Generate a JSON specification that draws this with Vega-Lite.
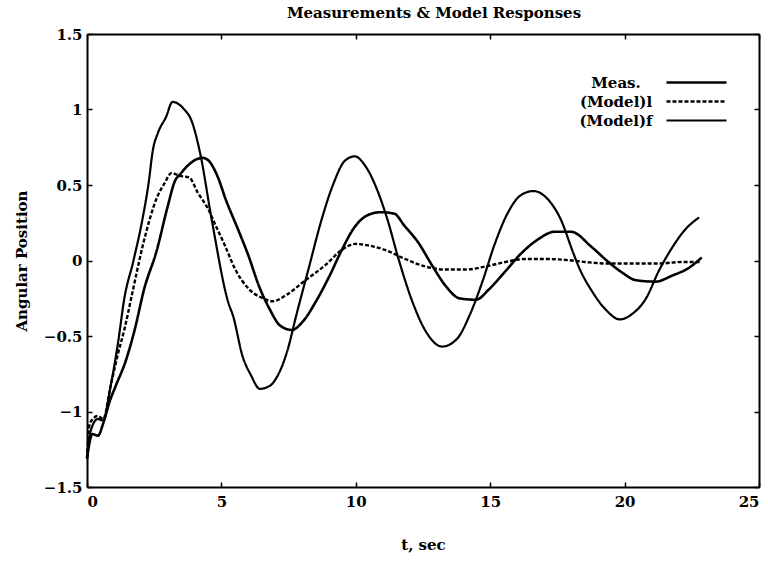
{
  "$schema": "https://vega.github.io/schema/vega-lite/v6.json",
  "width": 672,
  "height": 453,
  "autosize": {"type": "none"},
  "padding": {"left": 87, "top": 34, "right": 9, "bottom": 74},
  "background": "white",
  "title": {"text": "Measurements & Model Responses", "font": "DejaVu Serif", "fontSize": 15, "fontWeight": "bold", "color": "black", "offset": 6, "anchor": "middle", "dx": 11},
  "config": {
    "view": {"stroke": null},
    "axis": {
      "domainColor": "black", "domainWidth": 2, "tickColor": "black", "tickWidth": 1.5, "tickSize": -5,
      "grid": false, "labelFont": "DejaVu Serif", "labelFontWeight": "bold", "labelFontSize": 15, "labelColor": "black",
      "titleFont": "DejaVu Serif", "titleFontWeight": "bold", "titleFontSize": 15, "titleColor": "black"
    },
    "legend": {"symbolStrokeColor": "black"}
  },
  "data": {"values": [
    {"s":"Meas.","t":0,"v":-1.31},{"s":"Meas.","t":0.2,"v":-1.15},{"s":"Meas.","t":0.41,"v":-1.16},{"s":"Meas.","t":0.6,"v":-1.08},{"s":"Meas.","t":0.85,"v":-0.93},{"s":"Meas.","t":1.07,"v":-0.83},{"s":"Meas.","t":1.45,"v":-0.66},{"s":"Meas.","t":1.8,"v":-0.44},{"s":"Meas.","t":2.11,"v":-0.2},{"s":"Meas.","t":2.6,"v":0.07},{"s":"Meas.","t":2.99,"v":0.35},{"s":"Meas.","t":3.28,"v":0.53},{"s":"Meas.","t":3.46,"v":0.57},{"s":"Meas.","t":3.76,"v":0.63},{"s":"Meas.","t":4.07,"v":0.67},{"s":"Meas.","t":4.3,"v":0.68},{"s":"Meas.","t":4.53,"v":0.66},{"s":"Meas.","t":4.85,"v":0.56},{"s":"Meas.","t":5.17,"v":0.4},{"s":"Meas.","t":5.61,"v":0.21},{"s":"Meas.","t":6.01,"v":0.03},{"s":"Meas.","t":6.4,"v":-0.17},{"s":"Meas.","t":6.79,"v":-0.32},{"s":"Meas.","t":7.18,"v":-0.43},{"s":"Meas.","t":7.62,"v":-0.46},{"s":"Meas.","t":8.05,"v":-0.4},{"s":"Meas.","t":8.52,"v":-0.27},{"s":"Meas.","t":9.0,"v":-0.11},{"s":"Meas.","t":9.48,"v":0.07},{"s":"Meas.","t":9.95,"v":0.22},{"s":"Meas.","t":10.44,"v":0.3},{"s":"Meas.","t":10.93,"v":0.32},{"s":"Meas.","t":11.43,"v":0.31},{"s":"Meas.","t":11.81,"v":0.23},{"s":"Meas.","t":12.32,"v":0.12},{"s":"Meas.","t":12.83,"v":-0.03},{"s":"Meas.","t":13.35,"v":-0.17},{"s":"Meas.","t":13.85,"v":-0.25},{"s":"Meas.","t":14.47,"v":-0.26},{"s":"Meas.","t":14.96,"v":-0.19},{"s":"Meas.","t":15.57,"v":-0.07},{"s":"Meas.","t":16.17,"v":0.05},{"s":"Meas.","t":16.78,"v":0.14},{"s":"Meas.","t":17.39,"v":0.19},{"s":"Meas.","t":18.01,"v":0.19},{"s":"Meas.","t":18.77,"v":0.09},{"s":"Meas.","t":19.4,"v":-0.01},{"s":"Meas.","t":19.91,"v":-0.08},{"s":"Meas.","t":20.41,"v":-0.13},{"s":"Meas.","t":21.15,"v":-0.14},{"s":"Meas.","t":21.77,"v":-0.1},{"s":"Meas.","t":22.38,"v":-0.05},{"s":"Meas.","t":22.87,"v":0.02},
    {"s":"(Model)l","t":0,"v":-1.31},{"s":"(Model)l","t":0.1,"v":-1.08},{"s":"(Model)l","t":0.4,"v":-1.03},{"s":"(Model)l","t":0.6,"v":-1.05},{"s":"(Model)l","t":0.88,"v":-0.83},{"s":"(Model)l","t":1.15,"v":-0.62},{"s":"(Model)l","t":1.4,"v":-0.45},{"s":"(Model)l","t":1.68,"v":-0.22},{"s":"(Model)l","t":2.09,"v":0.11},{"s":"(Model)l","t":2.61,"v":0.42},{"s":"(Model)l","t":2.88,"v":0.51},{"s":"(Model)l","t":3.15,"v":0.58},{"s":"(Model)l","t":3.45,"v":0.56},{"s":"(Model)l","t":3.8,"v":0.55},{"s":"(Model)l","t":4.12,"v":0.45},{"s":"(Model)l","t":4.51,"v":0.34},{"s":"(Model)l","t":4.74,"v":0.25},{"s":"(Model)l","t":5.13,"v":0.1},{"s":"(Model)l","t":5.52,"v":-0.06},{"s":"(Model)l","t":6.03,"v":-0.19},{"s":"(Model)l","t":6.54,"v":-0.25},{"s":"(Model)l","t":6.91,"v":-0.27},{"s":"(Model)l","t":7.4,"v":-0.23},{"s":"(Model)l","t":8.13,"v":-0.13},{"s":"(Model)l","t":8.87,"v":-0.03},{"s":"(Model)l","t":9.48,"v":0.07},{"s":"(Model)l","t":9.97,"v":0.11},{"s":"(Model)l","t":10.46,"v":0.1},{"s":"(Model)l","t":11.09,"v":0.07},{"s":"(Model)l","t":11.84,"v":0.01},{"s":"(Model)l","t":12.59,"v":-0.04},{"s":"(Model)l","t":13.33,"v":-0.06},{"s":"(Model)l","t":14.08,"v":-0.06},{"s":"(Model)l","t":14.82,"v":-0.04},{"s":"(Model)l","t":15.56,"v":-0.01},{"s":"(Model)l","t":16.3,"v":0.01},{"s":"(Model)l","t":17.04,"v":0.01},{"s":"(Model)l","t":18.04,"v":0.0},{"s":"(Model)l","t":18.53,"v":-0.01},{"s":"(Model)l","t":19.4,"v":-0.02},{"s":"(Model)l","t":20.27,"v":-0.02},{"s":"(Model)l","t":21.26,"v":-0.02},{"s":"(Model)l","t":22.13,"v":-0.01},{"s":"(Model)l","t":22.81,"v":-0.01},
    {"s":"(Model)f","t":0,"v":-1.31},{"s":"(Model)f","t":0.15,"v":-1.12},{"s":"(Model)f","t":0.4,"v":-1.05},{"s":"(Model)f","t":0.6,"v":-1.06},{"s":"(Model)f","t":0.88,"v":-0.83},{"s":"(Model)f","t":1.15,"v":-0.55},{"s":"(Model)f","t":1.39,"v":-0.25},{"s":"(Model)f","t":1.73,"v":0.0},{"s":"(Model)f","t":2.07,"v":0.28},{"s":"(Model)f","t":2.29,"v":0.51},{"s":"(Model)f","t":2.45,"v":0.73},{"s":"(Model)f","t":2.65,"v":0.85},{"s":"(Model)f","t":2.94,"v":0.95},{"s":"(Model)f","t":3.18,"v":1.05},{"s":"(Model)f","t":3.62,"v":1.0},{"s":"(Model)f","t":3.88,"v":0.93},{"s":"(Model)f","t":4.21,"v":0.71},{"s":"(Model)f","t":4.64,"v":0.27},{"s":"(Model)f","t":5.26,"v":-0.28},{"s":"(Model)f","t":5.44,"v":-0.37},{"s":"(Model)f","t":5.78,"v":-0.63},{"s":"(Model)f","t":6.1,"v":-0.76},{"s":"(Model)f","t":6.43,"v":-0.85},{"s":"(Model)f","t":6.8,"v":-0.83},{"s":"(Model)f","t":7.1,"v":-0.76},{"s":"(Model)f","t":7.45,"v":-0.6},{"s":"(Model)f","t":7.79,"v":-0.36},{"s":"(Model)f","t":8.25,"v":-0.05},{"s":"(Model)f","t":8.71,"v":0.26},{"s":"(Model)f","t":9.17,"v":0.51},{"s":"(Model)f","t":9.59,"v":0.66},{"s":"(Model)f","t":9.96,"v":0.69},{"s":"(Model)f","t":10.34,"v":0.63},{"s":"(Model)f","t":10.79,"v":0.47},{"s":"(Model)f","t":11.18,"v":0.27},{"s":"(Model)f","t":11.59,"v":0.01},{"s":"(Model)f","t":12.12,"v":-0.28},{"s":"(Model)f","t":12.64,"v":-0.48},{"s":"(Model)f","t":13.21,"v":-0.57},{"s":"(Model)f","t":13.76,"v":-0.52},{"s":"(Model)f","t":14.24,"v":-0.36},{"s":"(Model)f","t":14.71,"v":-0.14},{"s":"(Model)f","t":15.17,"v":0.11},{"s":"(Model)f","t":15.64,"v":0.31},{"s":"(Model)f","t":16.12,"v":0.43},{"s":"(Model)f","t":16.61,"v":0.46},{"s":"(Model)f","t":17.12,"v":0.41},{"s":"(Model)f","t":17.63,"v":0.27},{"s":"(Model)f","t":18.09,"v":0.05},{"s":"(Model)f","t":18.29,"v":-0.04},{"s":"(Model)f","t":18.81,"v":-0.21},{"s":"(Model)f","t":19.32,"v":-0.33},{"s":"(Model)f","t":19.82,"v":-0.39},{"s":"(Model)f","t":20.31,"v":-0.35},{"s":"(Model)f","t":20.8,"v":-0.25},{"s":"(Model)f","t":21.27,"v":-0.07},{"s":"(Model)f","t":21.75,"v":0.08},{"s":"(Model)f","t":22.23,"v":0.2},{"s":"(Model)f","t":22.77,"v":0.285}
  ]},
  "layer": [
    {
      "mark": {"type": "line", "color": "black", "interpolate": "monotone"},
      "encoding": {
        "x": {"field": "t", "type": "quantitative", "scale": {"domain": [0, 25], "nice": false, "zero": false},
              "axis": {"orient": "bottom", "values": [0, 5, 10, 15, 20, 25], "title": "t, sec", "labelPadding": 12, "titlePadding": 28}},
        "y": {"field": "v", "type": "quantitative", "scale": {"domain": [-1.5, 1.5], "nice": false, "zero": false},
              "axis": {"orient": "left", "values": [-1.5, -1, -0.5, 0, 0.5, 1, 1.5], "format": "~g", "title": "Angular Position", "labelPadding": 10, "titlePadding": 14}},
        "strokeDash": {"field": "s", "type": "nominal", "scale": {"domain": ["Meas.", "(Model)l", "(Model)f"], "range": [[1, 0], [4, 2], [1, 0]]},
              "legend": {"title": null, "orient": "none", "legendX": 602, "legendY": 41, "symbolType": "M-5,0H5", "symbolSize": 144, "rowPadding": 3, "padding": 0, "labelFont": "DejaVu Serif", "labelFontWeight": "bold", "labelFontSize": 15, "labelColor": "black", "labelAlign": "center", "labelOffset": -88}},
        "strokeWidth": {"field": "s", "type": "nominal", "scale": {"domain": ["Meas.", "(Model)l", "(Model)f"], "range": [2.6, 2.2, 1.2]},
              "legend": {"title": null, "orient": "none", "legendX": 602, "legendY": 41, "symbolType": "M-5,0H5", "symbolSize": 144, "rowPadding": 3, "padding": 0, "labelFont": "DejaVu Serif", "labelFontWeight": "bold", "labelFontSize": 15, "labelColor": "black", "labelAlign": "center", "labelOffset": -88}}
      }
    },
    {
      "mark": {"type": "line", "opacity": 0},
      "encoding": {
        "x": {"field": "t", "type": "quantitative", "axis": {"orient": "top", "values": [0, 5, 10, 15, 20, 25], "labels": false, "title": null}},
        "y": {"field": "v", "type": "quantitative", "axis": {"orient": "right", "values": [-1.5, -1, -0.5, 0, 0.5, 1, 1.5], "labels": false, "title": null}},
        "detail": {"field": "s", "type": "nominal"}
      }
    }
  ],
  "resolve": {"axis": {"x": "independent", "y": "independent"}}
}
